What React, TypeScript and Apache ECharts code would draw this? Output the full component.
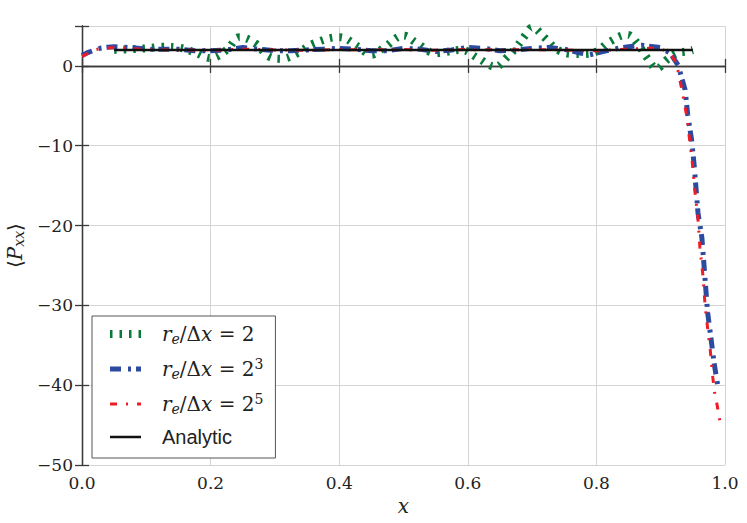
import React, { useEffect, useRef } from "react";
import * as echarts from "echarts";

const xTicks = [0, 0.2, 0.4, 0.6, 0.8, 1.0];
const yTicks = [-50, -40, -30, -20, -10, 0];

const seriesNames = ["re2", "re8", "re32", "analytic"];

const greenData: [number, number][] = [
  [0.05, 2.0], [0.075, 2.1], [0.1, 2.2], [0.125, 2.4], [0.15, 2.3], [0.175, 1.7],
  [0.2, 1.0], [0.225, 2.0], [0.245, 3.6], [0.27, 2.8], [0.29, 1.2], [0.31, 0.9],
  [0.335, 1.6], [0.36, 2.8], [0.4, 3.6], [0.43, 2.4], [0.45, 1.4], [0.47, 2.3],
  [0.5, 3.8], [0.52, 2.9], [0.55, 1.6], [0.59, 2.0], [0.615, 1.0], [0.643, -0.1],
  [0.66, 1.0], [0.675, 2.3], [0.69, 3.9], [0.7, 4.8], [0.72, 3.5], [0.74, 2.0],
  [0.765, 1.5], [0.78, 1.5], [0.8, 1.8], [0.82, 3.0], [0.848, 3.9], [0.863, 2.9],
  [0.878, 1.1], [0.894, -0.3], [0.91, 0.8], [0.925, 1.6], [0.94, 1.8], [0.95, 2.0],
];

const blueData: [number, number][] = [
  [0, 1.3], [0.01, 1.7], [0.02, 2.0], [0.03, 2.25], [0.04, 2.35], [0.05, 2.4],
  [0.075, 2.3], [0.1, 2.1], [0.125, 2.1], [0.15, 2.1], [0.175, 1.9], [0.2, 1.9],
  [0.225, 2.0], [0.25, 2.3], [0.275, 2.1], [0.3, 1.9], [0.325, 1.9], [0.35, 2.0],
  [0.375, 2.1], [0.4, 2.2], [0.425, 2.1], [0.45, 1.9], [0.475, 1.9], [0.5, 2.2],
  [0.525, 2.1], [0.55, 1.8], [0.575, 2.0], [0.6, 2.3], [0.625, 2.2], [0.65, 1.9],
  [0.675, 2.0], [0.7, 2.2], [0.725, 2.3], [0.75, 2.1], [0.775, 1.6], [0.79, 1.4],
  [0.81, 1.8], [0.84, 2.3], [0.87, 2.6], [0.9, 2.3], [0.915, 1.6], [0.927, 0.1],
  [0.938, -3.0], [0.942, -6.1], [0.948, -9.25], [0.952, -12.4], [0.955, -15.4],
  [0.958, -18.4], [0.964, -21.5], [0.967, -24.6], [0.97, -27.8], [0.973, -30.9],
  [0.978, -34.0], [0.983, -37.2], [0.989, -40.2],
];

const redData: [number, number][] = [
  [0, 1.2], [0.01, 1.6], [0.02, 2.0], [0.03, 2.2], [0.05, 2.3], [0.075, 2.2],
  [0.1, 2.05], [0.15, 2.0], [0.2, 1.95], [0.25, 2.1], [0.3, 2.0], [0.35, 1.95],
  [0.4, 2.05], [0.45, 2.0], [0.5, 2.05], [0.55, 1.95], [0.6, 2.05], [0.65, 2.0],
  [0.7, 2.05], [0.75, 2.0], [0.8, 1.9], [0.85, 2.1], [0.88, 2.2], [0.9, 2.2],
  [0.915, 1.5], [0.925, 0.3], [0.928, -1.1], [0.933, -3.0], [0.941, -6.5],
  [0.946, -10.0], [0.949, -12.0], [0.953, -15.5], [0.958, -19.2], [0.961, -22.8],
  [0.966, -26.5], [0.969, -30.0], [0.974, -33.6], [0.977, -35.5], [0.981, -39.0],
  [0.984, -41.0], [0.988, -42.6], [0.992, -44.5], [0.996, -45.3],
];

const analyticData: [number, number][] = [
  [0.05, 2.0], [0.95, 2.0],
];

const SERIF = "DejaVu Serif";
const SANS = "Liberation Sans";

const GREEN = "#0a7a3a";
const BLUE = "#2b4aa0";
const RED = "#ee1c25";
const BLACK = "#111111";

const legendLabels: Record<string, string> = {
  re2: "{i|r}{sub|e}{m|/Δ}{i|x}{m| = 2}",
  re8: "{i|r}{sub|e}{m|/Δ}{i|x}{m| = 2}{sup|3}",
  re32: "{i|r}{sub|e}{m|/Δ}{i|x}{m| = 2}{sup|5}",
  analytic: "{s|Analytic}",
};

const fmtNum = (v: number) => (v < 0 ? "\u2212" + Math.abs(v) : String(v));

export default function App() {
  const ref = useRef<HTMLDivElement>(null);
  useEffect(() => {
    if (!ref.current) return;
    const chart = echarts.init(ref.current, undefined, { renderer: "svg" });
    const axisLineStyle = { color: "#3a3a3a", width: 1.3 };
    const tickStyle = { color: "#3a3a3a", width: 1.3 };
    const greenLine = { color: GREEN, width: 8, type: [2.5, 7], cap: "butt" };
    const blueLine = { color: BLUE, width: 5, type: [11, 7, 3, 5], cap: "butt" };
    const redLine = { color: RED, width: 3, type: [7, 9, 2, 9], cap: "butt" };
    const blackLine = { color: BLACK, width: 2.5, type: "solid" };
    chart.setOption({
      animation: false,
      backgroundColor: "#ffffff",
      grid: { left: 82, right: 22, top: 26, bottom: 58, containLabel: false, outerBoundsMode: "none" },
      xAxis: [
        {
          type: "value",
          min: 0,
          max: 1,
          interval: 0.2,
          name: "{i|x}",
          nameLocation: "middle",
          nameGap: 17,
          nameTextStyle: {
            rich: { i: { fontFamily: SERIF, fontStyle: "italic", fontSize: 20, color: "#222" } },
          },
          axisLine: { show: true, lineStyle: axisLineStyle },
          axisTick: { show: true, inside: true, length: 7, lineStyle: tickStyle },
          axisLabel: {
            fontFamily: SERIF,
            fontSize: 17,
            color: "#222",
            margin: 9,
            formatter: (v: number) => (xTicks.some((t) => Math.abs(t - v) < 1e-9) ? v.toFixed(1) : ""),
          },
          splitLine: { show: true, lineStyle: { color: "#d4d4d4", width: 1 } },
        },
        {
          type: "value",
          position: "top",
          min: 0,
          max: 1,
          interval: 0.2,
          axisLine: { show: true, lineStyle: axisLineStyle },
          axisTick: { show: true, inside: true, length: 7, lineStyle: tickStyle },
          axisLabel: { show: false },
          splitLine: { show: false },
        },
      ],
      yAxis: [
        {
          type: "value",
          min: -50,
          max: 5,
          interval: 10,
          name: "⟨{i|P}{sub|xx}⟩",
          nameLocation: "middle",
          nameRotate: 90,
          nameGap: 50,
          nameTextStyle: {
            fontFamily: SERIF,
            fontSize: 20,
            color: "#222",
            rich: {
              i: { fontFamily: SERIF, fontStyle: "italic", fontSize: 20, color: "#222" },
              sub: { fontFamily: SERIF, fontStyle: "italic", fontSize: 14, color: "#222", padding: [9, 0, 0, 0] },
            },
          },
          axisLine: { show: true, lineStyle: axisLineStyle },
          axisTick: { show: true, inside: true, length: 7, lineStyle: tickStyle },
          axisLabel: {
            fontFamily: SERIF,
            fontSize: 17,
            color: "#222",
            margin: 9,
            formatter: (v: number) => (yTicks.indexOf(v) >= 0 ? fmtNum(v) : ""),
          },
          splitLine: { show: true, lineStyle: { color: "#d4d4d4", width: 1 } },
        },
        {
          type: "value",
          position: "right",
          min: -50,
          max: 5,
          interval: 10,
          axisLine: { show: true, lineStyle: axisLineStyle },
          axisTick: { show: true, inside: true, length: 7, lineStyle: tickStyle },
          axisLabel: { show: false },
          splitLine: { show: false },
        },
      ],
      legend: {
        orient: "vertical",
        left: 92,
        top: 316,
        data: [
          { name: seriesNames[0], lineStyle: greenLine, itemStyle: { opacity: 0 } },
          { name: seriesNames[1], lineStyle: blueLine, itemStyle: { opacity: 0 } },
          { name: seriesNames[2], lineStyle: redLine, itemStyle: { opacity: 0 } },
          { name: seriesNames[3], lineStyle: blackLine, itemStyle: { opacity: 0 } },
        ],
        backgroundColor: "#ffffff",
        borderColor: "#555",
        borderWidth: 1,
        borderRadius: 0,
        padding: [8, 12, 11, 14],
        itemWidth: 31,
        itemHeight: 20,
        itemGap: 11,
        formatter: (name: string) => legendLabels[name],
        textStyle: {
          padding: [0, 0, 0, 16],
          rich: {
            i: { fontFamily: SERIF, fontStyle: "italic", fontSize: 20, color: "#222" },
            m: { fontFamily: SERIF, fontSize: 20, color: "#222" },
            sub: { fontFamily: SERIF, fontStyle: "italic", fontSize: 14, color: "#222", padding: [10, 0, 0, 0] },
            sup: { fontFamily: SERIF, fontSize: 14, color: "#222", padding: [0, 0, 10, 0] },
            s: { fontFamily: SANS, fontSize: 20, color: "#222" },
          },
        },
      },
      series: [
        {
          name: "re2",
          type: "line",
          data: greenData,
          smooth: 0.4,
          symbol: "none",
          itemStyle: { color: GREEN },
          lineStyle: greenLine,
        },
        {
          name: "re8",
          type: "line",
          data: blueData,
          symbol: "none",
          itemStyle: { color: BLUE },
          lineStyle: blueLine,
        },
        {
          name: "re32",
          type: "line",
          data: redData,
          symbol: "none",
          itemStyle: { color: RED },
          lineStyle: redLine,
        },
        {
          name: "analytic",
          type: "line",
          data: analyticData,
          symbol: "none",
          itemStyle: { color: BLACK },
          lineStyle: blackLine,
        },
      ],
    });
    return () => chart.dispose();
  }, []);
  return (
    <div
      ref={ref}
      style={{ position: "fixed", left: 0, top: 0, width: 747, height: 523 }}
    />
  );
}
